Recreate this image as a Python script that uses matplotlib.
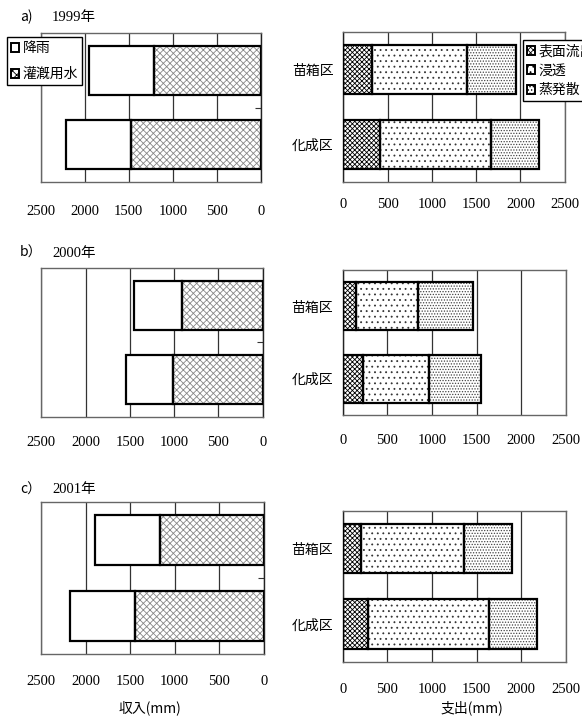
import matplotlib
matplotlib.use('Agg')
import matplotlib.pyplot as plt
from matplotlib.patches import Patch

# 収支データ (mm)
years = ['1999年', '2000年', '2001年']
panel_tags = ['a)', 'b）', 'c）']
plots = ['苗箱区', '化成区']

# 収入
rain = [[735, 735], [535, 537], [736, 729]]
irrigation = [[1216, 1477], [914, 1009], [1164, 1449]]

# 支出
runoff = [[327, 414], [152, 224], [205, 287]]
infiltration = [[1066, 1253], [688, 739], [1157, 1355]]
evapotrans = [[560, 542], [616, 586], [537, 534]]

xticks = [0, 500, 1000, 1500, 2000, 2500]

JP = ['Noto Sans CJK JP', 'DejaVu Sans']
NUM = ['Liberation Serif', 'Noto Sans CJK JP']

plt.rcParams['hatch.linewidth'] = 0.6

W, H = 582, 721
fig = plt.figure(figsize=(W / 100, H / 100), dpi=100)


def rect(x0, y0, x1, y1):
    return [x0 / W, 1 - y1 / H, (x1 - x0) / W, (y1 - y0) / H]


left_pos = [rect(40.7, 33.3, 261, 182), rect(41.3, 268, 262.7, 416.7), rect(41.3, 502.3, 263.7, 653.7)]
right_pos = [rect(343.3, 32.3, 564.7, 182), rect(342.7, 270, 566, 415), rect(342.7, 510.7, 566, 661.7)]
left_pad = [16.5, 14, 15]
right_pad = [11.5, 14, 15]
title_y = [17, 253, 490]

bar_h = 0.66
ypos = [0, 1]


def hbar(ax, vals, start, hatch, hcolor):
    # 模様は別の色で、外枠は黒で描く
    if hatch:
        ax.barh(ypos, vals, left=start, height=bar_h, color='white',
                edgecolor=hcolor, hatch=hatch, linewidth=0, zorder=2)
    else:
        ax.barh(ypos, vals, left=start, height=bar_h, color='white',
                linewidth=0, zorder=2)
    ax.barh(ypos, vals, left=start, height=bar_h, fill=False,
            edgecolor='black', linewidth=1.6, zorder=3)


def style_axis(ax, pad):
    ax.set_xlim(0, 2500)
    ax.set_ylim(1.5, -0.5)
    ax.set_xticks(xticks)
    ax.set_xticklabels([str(t) for t in xticks], family=NUM, fontsize=10.5)
    ax.tick_params(axis='x', length=0, pad=pad)
    ax.grid(axis='x', color='#333333', linewidth=0.9)
    ax.set_axisbelow(True)
    for s in ax.spines.values():
        s.set_color('#666666')
        s.set_linewidth(1.0)


for i in range(3):
    # 収入 (左, 軸反転)
    ax = fig.add_axes(left_pos[i])
    style_axis(ax, left_pad[i])
    ax.invert_xaxis()
    ax.set_ylim(1.5, -0.5)
    hbar(ax, irrigation[i], [0, 0], 'xxxxx', '#888888')
    hbar(ax, rain[i], irrigation[i], None, None)
    ax.yaxis.tick_right()
    ax.set_yticks([0.5])
    ax.set_yticklabels([])
    ax.tick_params(axis='y', direction='in', length=4, color='#333333')
    ax.spines['right'].set_color('#222222')

    # 支出 (右)
    ax2 = fig.add_axes(right_pos[i])
    style_axis(ax2, right_pad[i])
    inf_start = runoff[i]
    et_start = [a + b for a, b in zip(runoff[i], infiltration[i])]
    hbar(ax2, runoff[i], [0, 0], 'xxxxxxx', 'black')
    hbar(ax2, infiltration[i], inf_start, '...', '#333333')
    hbar(ax2, evapotrans[i], et_start, '......', '#444444')
    ax2.set_yticks(ypos)
    ax2.set_yticklabels(plots, family=JP, fontsize=10)
    ax2.tick_params(axis='y', length=0, pad=7)
    ax2.spines['left'].set_color('#222222')

    fig.text(20 / W, 1 - title_y[i] / H, panel_tags[i], family=JP, fontsize=10, va='center')
    fig.text(52 / W, 1 - title_y[i] / H, years[i], family=NUM, fontsize=10.5, va='center')

fig.text(150 / W, 1 - 708 / H, '収入(mm)', family=JP, fontsize=10, ha='center', va='center')
fig.text(472 / W, 1 - 708 / H, '支出(mm)', family=JP, fontsize=10, ha='center', va='center')

inc_handles = [Patch(facecolor='white', edgecolor='black', linewidth=1.4),
               Patch(facecolor='white', edgecolor='black', linewidth=1.4, hatch='xxxx')]
leg1 = fig.legend(inc_handles, ['降雨', '灌漑用水'], loc='upper left',
                  bbox_to_anchor=(6.7 / W, 1 - 37.3 / H), prop={'family': JP, 'size': 10},
                  handlelength=0.6, handleheight=0.6, handletextpad=0.25,
                  labelspacing=0.85, borderpad=0.3, borderaxespad=0, fancybox=False,
                  framealpha=1, edgecolor='black')
leg1.get_frame().set_linewidth(1.0)

exp_handles = [Patch(facecolor='white', edgecolor='black', linewidth=1.4, hatch='xxxxxx'),
               Patch(facecolor='white', edgecolor='black', linewidth=1.4, hatch='...'),
               Patch(facecolor='white', edgecolor='black', linewidth=1.4, hatch='.....')]
leg2 = fig.legend(exp_handles, ['表面流出', '浸透', '蒸発散'], loc='upper left',
                  bbox_to_anchor=(522.7 / W, 1 - 40 / H), prop={'family': JP, 'size': 10},
                  handlelength=0.6, handleheight=0.6, handletextpad=0.25,
                  labelspacing=0.4, borderpad=0.3, borderaxespad=0, fancybox=False,
                  framealpha=1, edgecolor='black')
leg2.get_frame().set_linewidth(1.0)

fig.savefig('out.png', dpi=100)
